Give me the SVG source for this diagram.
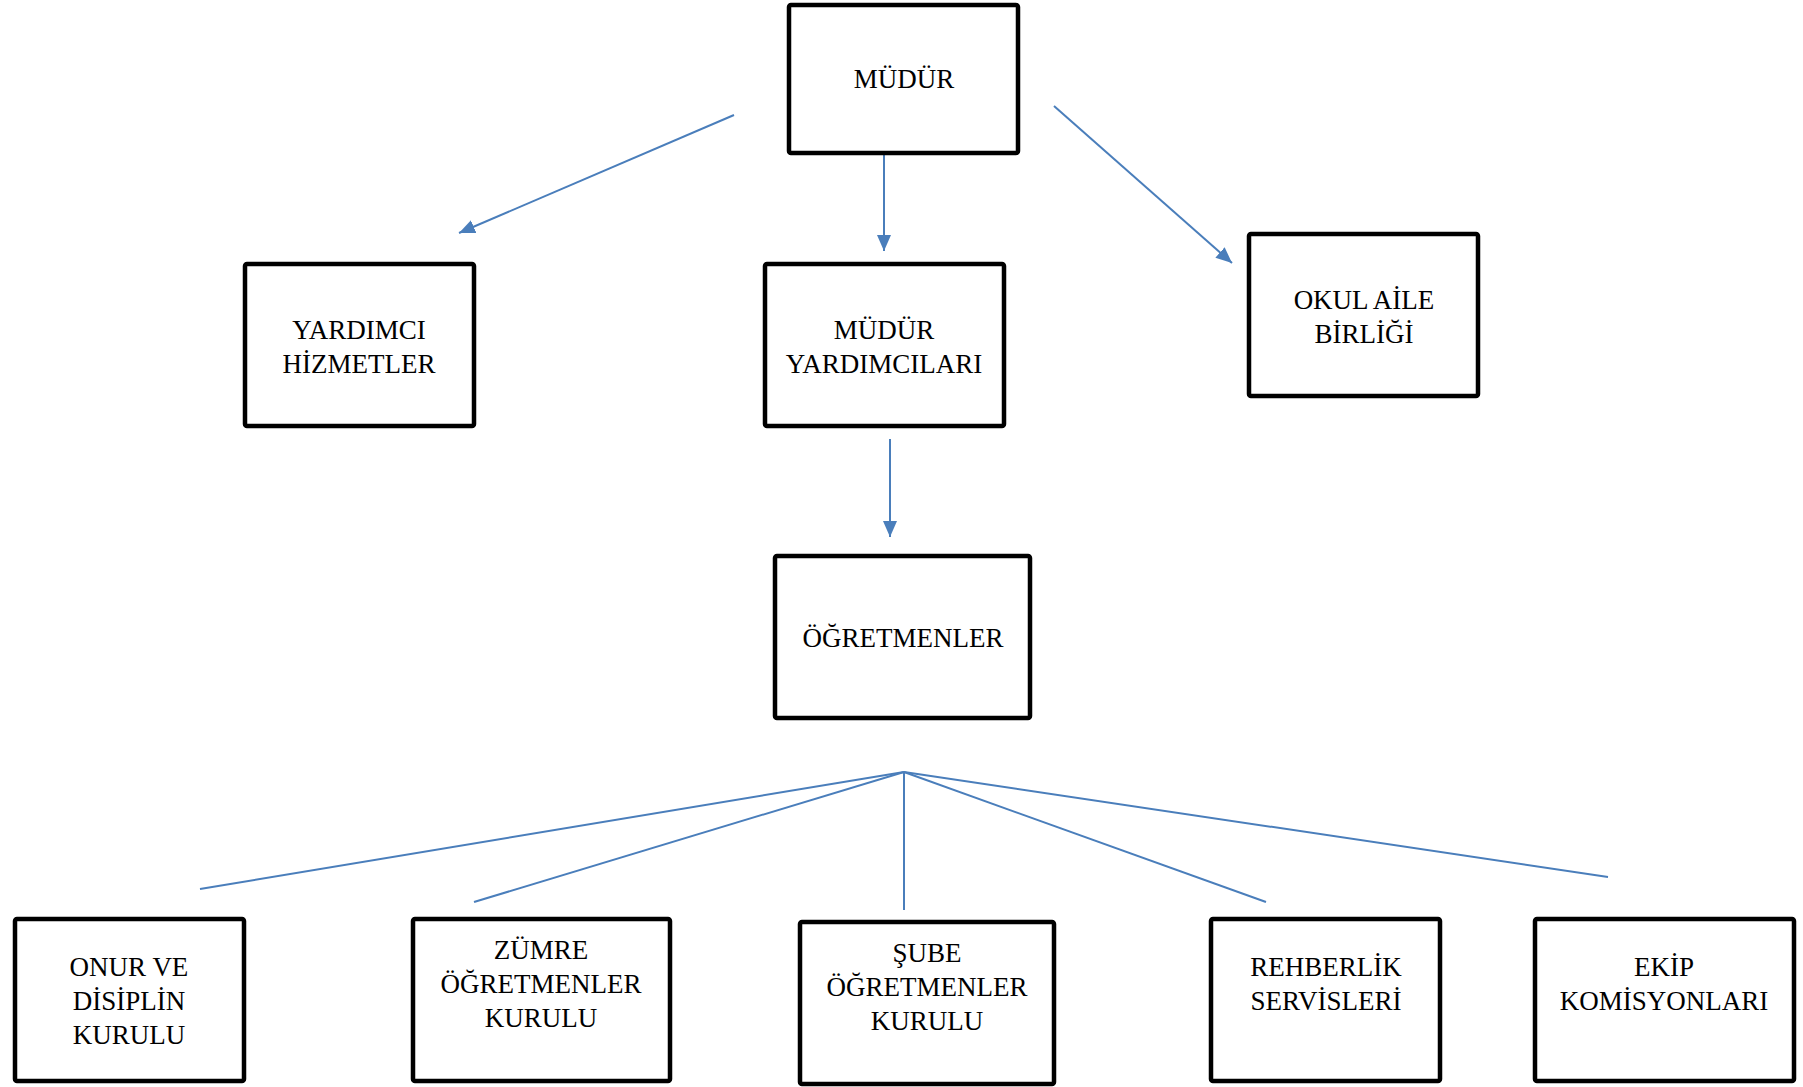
<svg xmlns="http://www.w3.org/2000/svg" width="1803" height="1087" viewBox="0 0 1803 1087">
<defs>
<style>
.box{fill:#fff;stroke:#000;stroke-width:4.5;stroke-linejoin:round}
.t{font-family:"Liberation Serif","DejaVu Serif",serif;font-size:27px;fill:#000;text-anchor:middle}
.c{stroke:#4a7ebb;stroke-width:2;fill:none}
</style>
<marker id="ah" viewBox="0 0 10 10" refX="10" refY="5" markerWidth="16" markerHeight="14" preserveAspectRatio="none" markerUnits="userSpaceOnUse" orient="auto">
<path d="M0,0 L10,5 L0,10 z" fill="#4a7ebb"/>
</marker>
</defs>
<rect width="1803" height="1087" fill="#fff"/>
<g id="connectors">
<line class="c" x1="734" y1="115" x2="459" y2="233" marker-end="url(#ah)"/>
<line class="c" x1="884" y1="154" x2="884" y2="251" marker-end="url(#ah)"/>
<line class="c" x1="1054" y1="106" x2="1232" y2="263" marker-end="url(#ah)"/>
<line class="c" x1="890" y1="439" x2="890" y2="537" marker-end="url(#ah)"/>
<line class="c" x1="904" y1="772" x2="200" y2="889"/>
<line class="c" x1="904" y1="772" x2="474" y2="902"/>
<line class="c" x1="904" y1="772" x2="904" y2="910"/>
<line class="c" x1="904" y1="772" x2="1266" y2="902"/>
<line class="c" x1="904" y1="772" x2="1608" y2="877"/>
</g>
<g id="mudur"><rect class="box" x="789" y="5" width="229" height="148" rx="2"/><text class="t" x="904" y="88">MÜDÜR</text></g>
<g id="yardimci-hizmetler"><rect class="box" x="245" y="264" width="229" height="162" rx="2"/><text class="t" x="359" y="339">YARDIMCI</text><text class="t" x="359" y="373">HİZMETLER</text></g>
<g id="mudur-yardimcilari"><rect class="box" x="765" y="264" width="239" height="162" rx="2"/><text class="t" x="884" y="339">MÜDÜR</text><text class="t" x="884" y="373">YARDIMCILARI</text></g>
<g id="okul-aile-birligi"><rect class="box" x="1249" y="234" width="229" height="162" rx="2"/><text class="t" x="1364" y="309">OKUL AİLE</text><text class="t" x="1364" y="343">BİRLİĞİ</text></g>
<g id="ogretmenler"><rect class="box" x="775" y="556" width="255" height="162" rx="2"/><text class="t" x="903" y="647">ÖĞRETMENLER</text></g>
<g id="onur-disiplin"><rect class="box" x="15" y="919" width="229" height="162" rx="2"/><text class="t" x="129" y="976">ONUR VE</text><text class="t" x="129" y="1010">DİSİPLİN</text><text class="t" x="129" y="1044">KURULU</text></g>
<g id="zumre"><rect class="box" x="413" y="919" width="257" height="162" rx="2"/><text class="t" x="541" y="959">ZÜMRE</text><text class="t" x="541" y="993">ÖĞRETMENLER</text><text class="t" x="541" y="1027">KURULU</text></g>
<g id="sube"><rect class="box" x="800" y="922" width="254" height="162" rx="2"/><text class="t" x="927" y="962">ŞUBE</text><text class="t" x="927" y="996">ÖĞRETMENLER</text><text class="t" x="927" y="1030">KURULU</text></g>
<g id="rehberlik"><rect class="box" x="1211" y="919" width="229" height="162" rx="2"/><text class="t" x="1326" y="976">REHBERLİK</text><text class="t" x="1326" y="1010">SERVİSLERİ</text></g>
<g id="ekip"><rect class="box" x="1535" y="919" width="259" height="162" rx="2"/><text class="t" x="1664" y="976">EKİP</text><text class="t" x="1664" y="1010">KOMİSYONLARI</text></g>
</svg>
